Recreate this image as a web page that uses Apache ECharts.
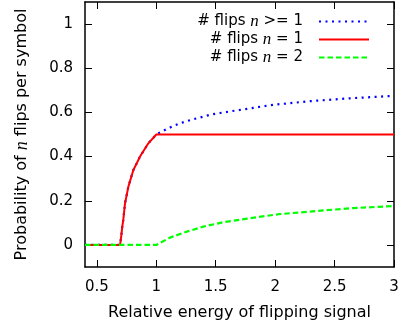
<!DOCTYPE html>
<html>
<head>
<meta charset="utf-8">
<script src="https://cdn.jsdelivr.net/npm/echarts@6/dist/echarts.min.js"></script>
<style>html,body{margin:0;padding:0;background:#fff}#c{width:410px;height:327px}</style>
</head>
<body>
<div id="c"></div>
<script>
var xTicks = [0.5, 1, 1.5, 2, 2.5, 3];
var yTicks = [0, 0.2, 0.4, 0.6, 0.8, 1];

var seriesNames = ['# flips n >= 1', '# flips n = 1', '# flips n = 2'];

var redX = [0.4, 0.695, 0.705, 0.713, 0.722, 0.737, 0.765, 0.807, 0.863, 0.933, 1.0, 3.0];
var redY = [0, 0, 0.04, 0.08, 0.113, 0.189, 0.264, 0.339, 0.4, 0.46, 0.5, 0.5];

var blueX = [0.4, 0.695, 0.705, 0.713, 0.722, 0.737, 0.765, 0.807, 0.863, 0.933, 1.0, 1.1, 1.2, 1.31, 1.466, 1.635, 1.789, 1.957, 2.294, 2.63, 3.0];
var blueY = [0, 0, 0.04, 0.08, 0.113, 0.189, 0.264, 0.339, 0.4, 0.46, 0.5, 0.528, 0.551, 0.569, 0.591, 0.606, 0.618, 0.633, 0.651, 0.664, 0.675];

var greenX = [0.4, 1.0, 1.115, 1.256, 1.396, 1.564, 1.789, 2.027, 2.294, 2.63, 3.0];
var greenY = [0, 0, 0.033, 0.06, 0.083, 0.103, 0.121, 0.139, 0.151, 0.166, 0.176];

function pairs(xs, ys) { return xs.map(function (x, i) { return [x, ys[i]]; }); }

var FONT = 'DejaVu Sans';
var richN = { n: { fontFamily: 'Liberation Serif', fontStyle: 'italic', fontSize: 17, color: '#000' } };
var richN16 = { n: { fontFamily: 'Liberation Serif', fontStyle: 'italic', fontSize: 18, color: '#000' } };

function legendFor(name, top) {
  return {
    data: [name], right: 40, top: top, orient: 'vertical', align: 'right',
    itemWidth: 50, itemHeight: 12, padding: 0,
    itemStyle: { opacity: 0 },
    textStyle: { fontFamily: FONT, fontSize: 15, color: '#000', padding: [0, 11, 0, 0], rich: richN },
    formatter: function (n) { return n.replace(' n ', ' {n|n} '); },
    selectedMode: false
  };
}

var axisCommon = {
  type: 'value', min: 0.4, max: 3,
  axisLine: { show: true, onZero: false, lineStyle: { color: '#000', width: 1.5 } },
  splitLine: { show: false }
};

var option = {
  animation: false,
  backgroundColor: '#fff',
  grid: { left: 85, right: 16, top: 2, bottom: 60, containLabel: false },
  legend: [legendFor(seriesNames[0], 13), legendFor(seriesNames[1], 31), legendFor(seriesNames[2], 49)],
  xAxis: [
    Object.assign({}, axisCommon, {
      position: 'bottom',
      name: 'Relative energy of flipping signal', nameLocation: 'middle', nameGap: 38,
      nameTextStyle: { fontFamily: FONT, fontSize: 16, color: '#000' },
      axisTick: { show: true, inside: true, length: 7, customValues: xTicks, lineStyle: { color: '#000', width: 1 } },
      axisLabel: { show: true, customValues: xTicks, margin: 13, fontFamily: FONT, fontSize: 15, color: '#000' }
    }),
    Object.assign({}, axisCommon, {
      position: 'top',
      axisTick: { show: true, inside: true, length: 7, customValues: xTicks, lineStyle: { color: '#000', width: 1 } },
      axisLabel: { show: false }
    })
  ],
  yAxis: [
    {
      type: 'value', min: -0.1, max: 1.1, position: 'left',
      axisLine: { show: true, onZero: false, lineStyle: { color: '#000', width: 1.5 } },
      splitLine: { show: false },
      name: 'Probability of {n|n} flips per symbol', nameLocation: 'middle', nameGap: 54,
      nameTextStyle: { fontFamily: FONT, fontSize: 16, color: '#000', rich: richN16 },
      axisTick: { show: true, inside: true, length: 7, customValues: yTicks, lineStyle: { color: '#000', width: 1 } },
      axisLabel: { show: true, customValues: yTicks, margin: 12, fontFamily: FONT, fontSize: 15, color: '#000' }
    },
    {
      type: 'value', min: -0.1, max: 1.1, position: 'right',
      axisLine: { show: true, onZero: false, lineStyle: { color: '#000', width: 1.5 } },
      splitLine: { show: false },
      axisTick: { show: true, inside: true, length: 7, customValues: yTicks, lineStyle: { color: '#000', width: 1 } },
      axisLabel: { show: false }
    }
  ],
  series: [
    {
      name: seriesNames[0], type: 'line', data: pairs(blueX, blueY), symbol: 'none', z: 2,
      color: '#0000ff', lineStyle: { color: '#0000ff', width: 2.2, type: [2, 4.5] }
    },
    {
      name: seriesNames[1], type: 'line', data: pairs(redX, redY), symbol: 'none', z: 3,
      color: '#ff0000', lineStyle: { color: '#ff0000', width: 2 }
    },
    {
      name: seriesNames[2], type: 'line', data: pairs(greenX, greenY), symbol: 'none', z: 4,
      color: '#00ff00', lineStyle: { color: '#00ff00', width: 2.2, type: [5.5, 3] }
    }
  ]
};

var chart = echarts.init(document.getElementById('c'), null, { renderer: 'canvas' });
chart.setOption(option);
</script>
</body>
</html>
